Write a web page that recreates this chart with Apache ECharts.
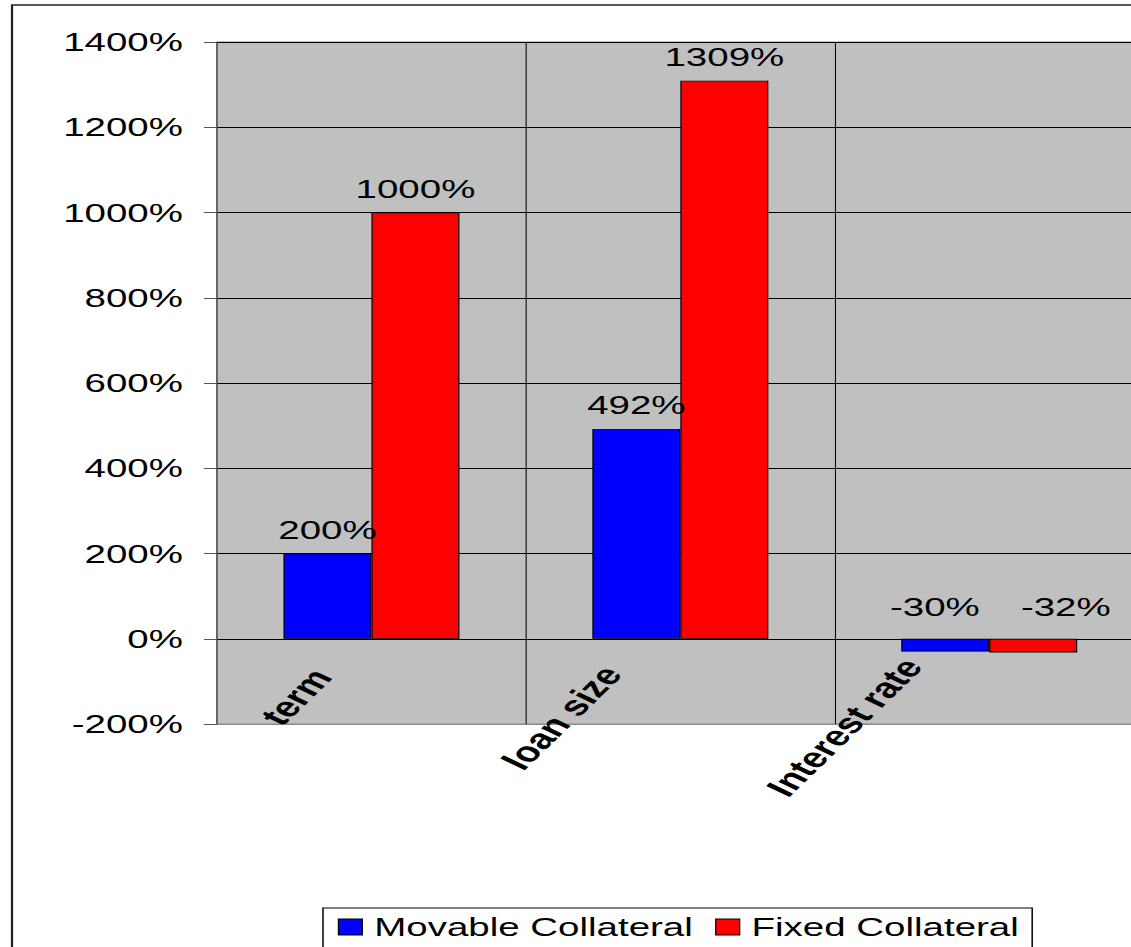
<!DOCTYPE html>
<html>
<head>
<meta charset="utf-8">
<script src="https://cdn.jsdelivr.net/npm/echarts@6/dist/echarts.min.js"></script>
<style>
  html, body { margin: 0; padding: 0; background: #fff; overflow: hidden; }
  #wrap { width: 1131px; height: 947px; overflow: hidden; }
  #chart { height: 947px; transform-origin: 0 0; }
</style>
</head>
<body>
<div id="wrap"><div id="chart"></div></div>
<script>
// the source picture is stretched sideways, so the chart is laid out narrower and scaled in x
var S = 1.48
var W = 1170 / S   // a bit wider than the window, the plot runs off the right edge

var categories = ['term', 'loan size', 'Interest rate']
var movable = [200, 492, -30]
var fixed = [1000, 1309, -32]
var yMin = -200, yMax = 1400, yStep = 200

var FONT = '"Liberation Sans", Arial, sans-serif'

var dom = document.getElementById('chart')
dom.style.width = W + 'px'
dom.style.transform = 'scaleX(' + S + ')'

var myChart = echarts.init(dom, null, { renderer: 'svg' })

// 标签的小偏移（负值柱子）
var negLabelShift = { movable: -7, fixed: 22 }

function buildData(values, shiftX) {
  return values.map(function (v) {
    if (v < 0) {
      return { value: v, label: { distance: 19, offset: [shiftX, 0] } }
    }
    return v
  })
}

function catRich() {
  var pads = [[0, 43, 22, 0], [0, 48, 46, 0], [0, 45, 64, 0]]
  var rich = {}
  pads.forEach(function (p, i) {
    rich['c' + i] = {
      padding: p,
      fontSize: 28,
      fontWeight: 'bold',
      fontFamily: FONT,
      color: '#000'
    }
  })
  return rich
}

var barLabel = {
  show: true,
  position: 'top',
  distance: 11,
  formatter: '{c}%',
  fontSize: 26,
  fontFamily: FONT,
  color: '#000'
}

var option = {
  animation: false,
  backgroundColor: '#fff',
  graphic: [{
    type: 'rect',
    z: -10,
    shape: { x: 12 / S, y: 5, width: 2000, height: 2000 },
    style: { fill: 'none', stroke: '#222', lineWidth: 1.5 }
  }],
  grid: {
    left: 217 / S,
    right: W - 1143 / S,
    top: 42,
    bottom: 947 - 724,
    show: true,
    backgroundColor: '#c0c0c0',
    borderColor: '#8a8a8a',
    borderWidth: 1
  },
  legend: {
    left: 323 / S,
    top: 908,
    padding: [6, 9, 30, 10],
    borderColor: '#000',
    borderWidth: 1,
    itemWidth: 24 / S,
    itemHeight: 16,
    itemGap: 15,
    icon: 'rect',
    itemStyle: { borderColor: '#000', borderWidth: 0.8 },
    textStyle: { fontSize: 26, fontFamily: FONT, color: '#000', padding: [0, 0, 0, 3] },
    data: ['Movable Collateral', 'Fixed Collateral']
  },
  xAxis: {
    type: 'category',
    data: categories,
    axisLine: { show: true, onZero: false, lineStyle: { color: '#8a8a8a', width: 1 } },
    axisTick: { show: false },
    splitLine: { show: true, interval: 0, lineStyle: { color: '#000', width: 0.7 } },
    axisLabel: {
      interval: 0,
      rotate: 55,
      margin: -81,
      formatter: function (v, i) { return '{c' + i + '|' + v + '}' },
      rich: catRich()
    }
  },
  yAxis: {
    type: 'value',
    min: yMin,
    max: yMax,
    interval: yStep,
    axisLine: { show: true, lineStyle: { color: '#777', width: 0.7 } },
    axisTick: { show: true, length: 13 / S, lineStyle: { color: '#555' } },
    splitLine: { show: true, lineStyle: { color: '#000', width: 1 } },
    axisLabel: {
      margin: 23,
      fontSize: 26,
      fontFamily: FONT,
      color: '#000',
      formatter: function (v) { return v + '%' }
    }
  },
  series: [
    {
      name: 'Movable Collateral',
      type: 'bar',
      barWidth: 88 / S,
      barGap: '0%',
      itemStyle: { color: '#0000ff', borderColor: '#000', borderWidth: 0.8 },
      label: barLabel,
      data: buildData(movable, negLabelShift.movable)
    },
    {
      name: 'Fixed Collateral',
      type: 'bar',
      barWidth: 88 / S,
      barGap: '0%',
      itemStyle: { color: '#ff0000', borderColor: '#000', borderWidth: 0.8 },
      label: barLabel,
      data: buildData(fixed, negLabelShift.fixed)
    }
  ]
}

myChart.setOption(option)
</script>
</body>
</html>
